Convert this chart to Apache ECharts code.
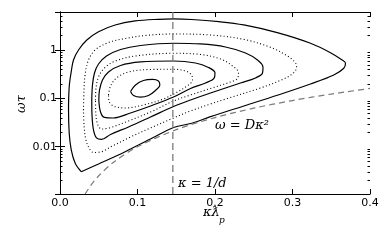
<!DOCTYPE html>
<html><head><meta charset="utf-8">
<script src="https://cdn.jsdelivr.net/npm/echarts@6/dist/echarts.min.js"></script>
<style>html,body{margin:0;padding:0;background:#fff}#c{width:392px;height:245px}</style>
</head><body><div id="c"></div>
<script>
// axis data
const xTickValues = [0.0, 0.1, 0.2, 0.3, 0.4];
const yTickValues = [0.01, 0.1, 1];
const yMin = 0.00105, yMax = 6.1;
const minorMultipliers = [2, 3, 4, 5, 6, 7, 8, 9];

// contour lines [kappa*lambda_p, omega*tau], outermost to innermost
const contour1 = [[0.0274,0.00304],[0.0196,0.00454],[0.0145,0.00855],[0.0119,0.0189],[0.0110,0.0574],[0.0119,0.174],[0.0145,0.356],[0.0174,0.621],[0.0239,1.0],[0.0346,1.61],[0.0497,2.39],[0.0712,3.29],[0.0970,3.98],[0.1271,4.31],[0.1465,4.38],[0.1700,4.27],[0.2050,3.85],[0.2372,3.29],[0.2803,2.28],[0.3232,1.376],[0.3490,0.880],[0.3641,0.621],[0.3684,0.531],[0.3662,0.418],[0.3533,0.304],[0.3232,0.198],[0.2803,0.1156],[0.2372,0.0695],[0.1942,0.0417],[0.1701,0.0305],[0.1465,0.0249],[0.1185,0.0149],[0.0841,0.00788],[0.0497,0.00439],[0.0274,0.00304]];
const contour2 = [[0.0303,0.0574],[0.0310,0.149],[0.0323,0.304],[0.0368,0.621],[0.0454,1.0],[0.0626,1.43],[0.0845,1.73],[0.1103,1.995],[0.1465,2.14],[0.1942,2.04],[0.2368,1.66],[0.2716,1.137],[0.2935,0.751],[0.3039,0.538],[0.3052,0.439],[0.3013,0.334],[0.2884,0.251],[0.2587,0.1637],[0.2161,0.0993],[0.1942,0.0764],[0.1684,0.0547],[0.1465,0.0392],[0.1168,0.0244],[0.0910,0.0159],[0.0677,0.01033],[0.0523,0.00777],[0.0432,0.00759],[0.0368,0.00986],[0.0329,0.01514],[0.0310,0.0281],[0.0303,0.0574]];
const contour3 = [[0.0410,0.0924],[0.0419,0.189],[0.0445,0.334],[0.0497,0.513],[0.0600,0.751],[0.0781,1.024],[0.1039,1.239],[0.1465,1.376],[0.1813,1.331],[0.2135,1.153],[0.2394,0.867],[0.2548,0.621],[0.2619,0.445],[0.2613,0.334],[0.2523,0.264],[0.2329,0.2077],[0.1942,0.129],[0.1684,0.0924],[0.1465,0.0678],[0.1168,0.0411],[0.0884,0.0256],[0.0652,0.01788],[0.0535,0.01409],[0.0471,0.01514],[0.0432,0.0222],[0.0413,0.0453],[0.0410,0.0924]];
const contour4 = [[0.0458,0.0924],[0.0465,0.1637],[0.0497,0.2764],[0.0574,0.424],[0.0716,0.592],[0.0974,0.751],[0.1465,0.855],[0.1813,0.807],[0.2071,0.652],[0.2226,0.467],[0.2303,0.334],[0.2290,0.2574],[0.2200,0.218],[0.1942,0.160],[0.1684,0.1173],[0.1465,0.0881],[0.1168,0.0522],[0.0884,0.034],[0.0652,0.0249],[0.0535,0.0232],[0.0484,0.0295],[0.0462,0.0498],[0.0458,0.0924]];
const contour5 = [[0.0501,0.0924],[0.0510,0.149],[0.0548,0.2396],[0.0626,0.351],[0.0781,0.478],[0.1039,0.565],[0.1465,0.592],[0.1748,0.538],[0.1916,0.435],[0.2000,0.334],[0.1987,0.2574],[0.1877,0.2077],[0.1684,0.160],[0.1465,0.1066],[0.1168,0.0695],[0.0910,0.0498],[0.0690,0.0392],[0.0574,0.0402],[0.0523,0.0522],[0.0501,0.0924]];
const contour6 = [[0.0626,0.1173],[0.0652,0.180],[0.0729,0.2636],[0.0884,0.351],[0.1168,0.395],[0.1465,0.399],[0.1619,0.368],[0.1697,0.304],[0.1710,0.2396],[0.1658,0.1888],[0.1490,0.129],[0.1335,0.0970],[0.1077,0.0729],[0.0845,0.0632],[0.0690,0.0695],[0.0632,0.0881],[0.0626,0.1173]];
const contour7 = [[0.0910,0.1386],[0.0948,0.1146],[0.1039,0.1056],[0.1142,0.1146],[0.1232,0.1453],[0.1288,0.1888],[0.1271,0.2285],[0.1194,0.2454],[0.1077,0.2339],[0.0974,0.1888],[0.0910,0.1386]];

// omega = D kappa^2 reference curve
const diffKappa = [0.0324, 0.04, 0.05, 0.07, 0.1, 0.15, 0.2, 0.25, 0.3, 0.35, 0.4];
const diffOmega = [0.00105, 0.0016, 0.0025, 0.0049, 0.01, 0.0225, 0.04, 0.0625, 0.09, 0.1225, 0.16];
// kappa = 1/d
const kappaD = 0.1456;

const contours = [contour1, contour2, contour3, contour4, contour5, contour6, contour7];
const contourDotted = [false, true, false, true, false, true, false];

const chart = echarts.init(document.getElementById('c'), null, {renderer: 'canvas'});
const series = contours.map((c, i) => ({
  type: 'line', data: c, symbol: 'none', smooth: 0.35, animation: false, silent: true,
  lineStyle: {color: '#000', width: contourDotted[i] ? 1.1 : 1.2, type: contourDotted[i] ? [1, 2.4] : 'solid'},
  xAxisIndex: 0, yAxisIndex: 0
}));
series.push({
  type: 'line', data: diffKappa.map((k, i) => [k, diffOmega[i]]), symbol: 'none', smooth: 0.3, animation: false,
  lineStyle: {color: '#7a7a7a', width: 1.2, type: [6, 4]}
});
series.push({
  type: 'line', data: [[kappaD, yMin], [kappaD, yMax]], symbol: 'none', animation: false,
  lineStyle: {color: '#7a7a7a', width: 1.3, type: [7, 4]}
});

const tickFont = {fontFamily: 'DejaVu Sans', fontSize: 11, color: '#000'};
chart.setOption({
  animation: false,
  grid: {left: 60, right: 22, top: 12, bottom: 51},
  xAxis: [
    {type: 'value', min: xTickValues[0], max: xTickValues[xTickValues.length - 1], interval: 0.1, position: 'bottom',
     axisLine: {show: true, lineStyle: {color: '#000', width: 1}},
     axisTick: {show: true, inside: true, length: 5, lineStyle: {color: '#000'}},
     axisLabel: Object.assign({margin: 4, formatter: v => v.toFixed(1)}, tickFont),
     splitLine: {show: false}},
    {type: 'value', min: xTickValues[0], max: xTickValues[xTickValues.length - 1], interval: 0.1, position: 'top',
     axisLine: {show: true, lineStyle: {color: '#000', width: 1}},
     axisTick: {show: true, inside: true, length: 5, lineStyle: {color: '#000'}},
     axisLabel: {show: false}, splitLine: {show: false}}
  ],
  yAxis: [
    {type: 'log', logBase: 10, min: yMin, max: yMax, position: 'left',
     axisLine: {show: true, lineStyle: {color: '#000', width: 1}},
     axisTick: {show: true, inside: true, length: 5, lineStyle: {color: '#000'}},
     axisLabel: Object.assign({margin: 3, showMinLabel: false, showMaxLabel: false,
       formatter: v => (yTickValues.some(t => Math.abs(t - v) / t < 1e-6) ? String(+v.toPrecision(2)) : '')}, tickFont),
     splitLine: {show: false}},
    {type: 'log', logBase: 10, min: yMin, max: yMax, position: 'right',
     axisLine: {show: true, lineStyle: {color: '#000', width: 1}},
     axisTick: {show: true, inside: true, length: 5, lineStyle: {color: '#000'}},
     axisLabel: {show: false}, splitLine: {show: false}}
  ],
  series: series
});

// minor ticks for the log axes + text annotations
const g = [];
for (let e = -3; e <= 0; e++) {
  minorMultipliers.forEach(m => {
    const v = m * Math.pow(10, e);
    if (v > yMin && v < yMax) {
      const y = Math.round(chart.convertToPixel({yAxisIndex: 0}, v)) + 0.5;
      const xl = chart.convertToPixel({xAxisIndex: 0}, xTickValues[0]);
      const xr = chart.convertToPixel({xAxisIndex: 0}, xTickValues[xTickValues.length - 1]);
      g.push({type: 'line', silent: true, shape: {x1: xl, y1: y, x2: xl + 2.5, y2: y}, style: {stroke: '#000', lineWidth: 1}});
      g.push({type: 'line', silent: true, shape: {x1: xr, y1: y, x2: xr - 2.5, y2: y}, style: {stroke: '#000', lineWidth: 1}});
    }
  });
}
const mathFont = 'italic 13px "DejaVu Serif"';
g.push({type: 'text', style: {text: 'ω = Dκ²', x: 215, y: 126, font: mathFont, fill: '#000', verticalAlign: 'middle'}});
g.push({type: 'text', style: {text: 'κ = 1/d', x: 178, y: 184, font: mathFont, fill: '#000', verticalAlign: 'middle'}});
g.push({type: 'text', style: {text: 'κƛ', x: 203, y: 213, font: mathFont, fill: '#000', verticalAlign: 'middle'}});
g.push({type: 'text', style: {text: 'p', x: 219, y: 221, font: 'italic 9px "DejaVu Serif"', fill: '#000', verticalAlign: 'middle'}});
g.push({type: 'text', x: 22, y: 104, rotation: Math.PI / 2, style: {text: 'ωτ', x: 0, y: 0, font: mathFont, fill: '#000', align: 'center', verticalAlign: 'middle'}});
chart.setOption({graphic: g});
</script>
</body></html>
